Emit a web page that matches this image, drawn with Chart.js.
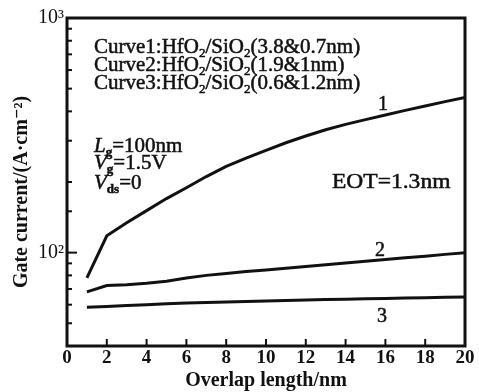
<!DOCTYPE html>
<html>
<head>
<meta charset="utf-8">
<script src="https://cdn.jsdelivr.net/npm/chart.js@4.4.1/dist/chart.umd.min.js"></script>
<style>
  body { margin: 0; background: #fff; }
  #wrap { width: 479px; height: 392px; }
</style>
</head>
<body>
<div id="wrap"><canvas id="chart"></canvas></div>
<script>
// ==========
// Gate current vs overlap length
// ==========
const overlapLen = [1, 2, 3, 4, 5, 6, 7, 8, 9, 10, 11, 12, 13, 14, 15, 16, 17, 18, 19, 20];
// Curve1: HfO2/SiO2 (3.8 & 0.7nm)
const curve1 = [78, 118, 134, 151, 170, 189, 211, 233, 253, 273, 294, 314, 334, 352, 369, 386, 404, 422, 440, 458];
// Curve2: HfO2/SiO2 (1.9 & 1nm)
const curve2 = [68, 72.4, 73, 74, 75.5, 78, 80, 81.5, 83, 84.3, 85.8, 87.3, 88.8, 90.3, 91.8, 93.4, 95, 96.6, 98.3, 100];
// Curve3: HfO2/SiO2 (0.6 & 1.2nm)
const curve3 = [58.5, 59, 59.5, 60, 60.5, 61, 61.3, 61.6, 61.9, 62.2, 62.5, 62.8, 63.1, 63.3, 63.6, 63.8, 64, 64.2, 64.5, 64.7];

const yLabels = { 2: '10²', 3: '10³' };
const yTitle = 'Gate current/(A·cm⁻²)';

const SERIF = '"Liberation Serif", "DejaVu Serif", serif';
const INK = '#111';

function toPoints(ys) {
    return overlapLen.map((x, i) => ({ x: x, y: ys[i] }));
}

// 添字つきテキスト（少し太らせる）
function drawRich(ctx, x, y, parts, size, sx) {
    ctx.save();
    ctx.translate(x, y);
    ctx.scale(sx || 1, 1);
    ctx.textBaseline = 'alphabetic';
    ctx.textAlign = 'left';
    ctx.lineWidth = 0.5;
    let cx = 0;
    parts.forEach(p => {
        const fs = p.sub ? size * 0.62 : size;
        ctx.font = (p.style || '') + ' ' + fs + 'px ' + SERIF;
        const dy = p.sub ? size * 0.22 : 0;
        ctx.fillText(p.t, cx, dy);
        ctx.strokeText(p.t, cx, dy);
        cx += ctx.measureText(p.t).width;
    });
    ctx.restore();
}

const framePlugin = {
    id: 'framePlugin',
    afterDraw(chart) {
        const { ctx, chartArea: a, scales } = chart;
        const xs = scales.x, ys = scales.y;
        ctx.save();
        ctx.strokeStyle = INK;
        ctx.fillStyle = INK;

        // 内向きの目盛り
        ctx.lineWidth = 2;
        xs.ticks.forEach(t => {
            const px = xs.getPixelForValue(t.value);
            ctx.beginPath();
            ctx.moveTo(px, a.bottom);
            ctx.lineTo(px, a.bottom - 7);
            ctx.stroke();
        });
        ys.ticks.forEach(t => {
            const py = ys.getPixelForValue(t.value);
            const major = t.label !== '';
            ctx.beginPath();
            ctx.moveTo(a.left, py);
            ctx.lineTo(a.left + (major ? 10 : 5), py);
            ctx.stroke();
        });

        ctx.lineWidth = 3;
        ctx.strokeRect(a.left, a.top, a.right - a.left, a.bottom - a.top);

        // y軸タイトル
        ctx.save();
        ctx.translate(27, 192);
        ctx.rotate(-Math.PI / 2);
        ctx.textAlign = 'center';
        ctx.textBaseline = 'alphabetic';
        ctx.font = 'bold 20px ' + SERIF;
        ctx.fillText(yTitle, 0, 0);
        ctx.restore();

        // 注記
        drawRich(ctx, 94, 53, [{ t: 'Curve1:HfO' }, { t: '2', sub: true }, { t: '/SiO' }, { t: '2', sub: true }, { t: '(3.8&0.7nm)' }], 20, 1.05);
        drawRich(ctx, 94, 71, [{ t: 'Curve2:HfO' }, { t: '2', sub: true }, { t: '/SiO' }, { t: '2', sub: true }, { t: '(1.9&1nm)' }], 20, 1.05);
        drawRich(ctx, 94, 89, [{ t: 'Curve3:HfO' }, { t: '2', sub: true }, { t: '/SiO' }, { t: '2', sub: true }, { t: '(0.6&1.2nm)' }], 20, 1.05);

        drawRich(ctx, 94, 152, [{ t: 'L', style: 'italic' }, { t: 'g', sub: true, style: 'bold' }, { t: '=100nm' }], 20, 1.05);
        drawRich(ctx, 94, 169, [{ t: 'V', style: 'italic' }, { t: 'g', sub: true, style: 'bold' }, { t: '=1.5V' }], 20, 1.05);
        drawRich(ctx, 94, 189, [{ t: 'V', style: 'italic' }, { t: 'ds', sub: true, style: 'bold' }, { t: '=0' }], 20, 1.05);

        drawRich(ctx, 332, 188, [{ t: 'EOT=1.3nm' }], 21, 1.12);

        drawRich(ctx, 378, 110, [{ t: '1' }], 20, 1);
        drawRich(ctx, 375, 256, [{ t: '2' }], 20, 1);
        drawRich(ctx, 377, 322, [{ t: '3' }], 20, 1);
        ctx.restore();
    }
};

function lineSet(label, ys) {
    return {
        label: label,
        data: toPoints(ys),
        borderColor: INK,
        borderWidth: 3,
        pointRadius: 0,
        tension: 0,
        fill: false
    };
}

const ctx = document.getElementById('chart');
const chart = new Chart(ctx, {
    type: 'line',
    data: {
        datasets: [
            lineSet('Curve1', curve1),
            lineSet('Curve2', curve2),
            lineSet('Curve3', curve3)
        ]
    },
    options: {
        responsive: true,
        maintainAspectRatio: false,
        animation: false,
        plugins: {
            legend: { display: false },
            tooltip: { enabled: false }
        },
        layout: {
            padding: { top: 18, right: 14, left: 0, bottom: 0 }
        },
        scales: {
            x: {
                type: 'linear',
                min: 0,
                max: 20,
                grid: { display: false, drawTicks: false },
                border: { display: false },
                ticks: {
                    stepSize: 2,
                    padding: 1,
                    color: INK,
                    font: { family: SERIF, size: 19, weight: 'bold' }
                },
                title: {
                    display: true,
                    text: 'Overlap length/nm',
                    color: INK,
                    font: { family: SERIF, size: 20, weight: 'bold' },
                    padding: { top: 0, bottom: -1 }
                },
                afterFit: function (scale) { scale.height = 46; }
            },
            y: {
                type: 'logarithmic',
                min: 40,
                max: 1000,
                grid: { display: false, drawTicks: false },
                border: { display: false },
                ticks: {
                    autoSkip: false,
                    padding: 3,
                    color: INK,
                    font: { family: SERIF, size: 20 },
                    callback: function (value) {
                        const e = Math.log10(value);
                        if (Math.abs(e - Math.round(e)) < 1e-9 && yLabels[Math.round(e)]) {
                            return yLabels[Math.round(e)];
                        }
                        return '';
                    }
                },
                afterFit: function (scale) { scale.width = 67; }
            }
        }
    },
    plugins: [framePlugin]
});
</script>
</body>
</html>
